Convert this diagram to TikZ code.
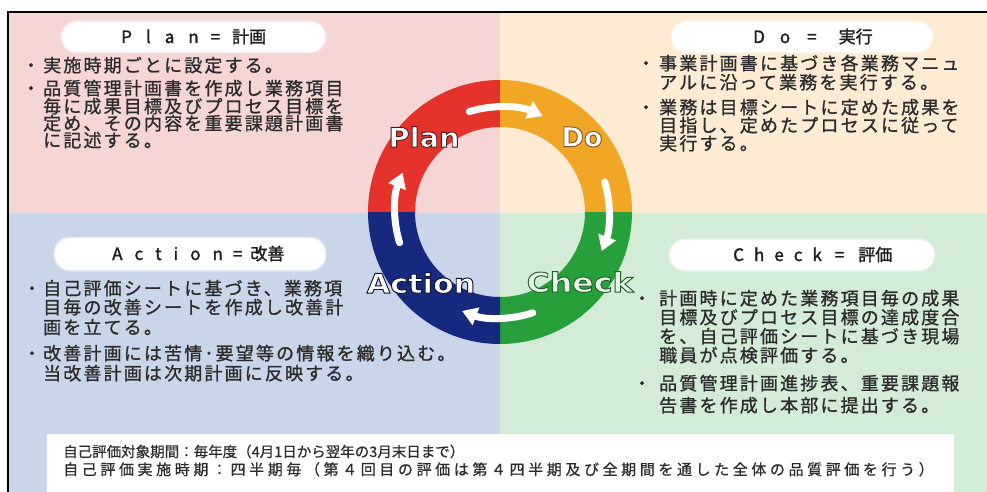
\documentclass[tikz,border=0pt]{standalone}
\usepackage{fontspec}
\usetikzlibrary{arrows.meta}
\newfontfamily\jp{Noto Sans CJK JP}[FakeBold=1]
\newfontfamily\jpttl{Noto Sans CJK JP}[FakeBold=1.6]
\newfontfamily\jpbody{Noto Sans CJK JP}[LetterSpace=12,FakeBold=1]
\newfontfamily\jpbtm{Noto Sans CJK JP}[LetterSpace=24,FakeBold=0.6]
\newfontfamily\jpbtmA{Noto Sans CJK JP}[FakeBold=0.6]
\newfontfamily\lblplan{DejaVu Sans}[FakeStretch=1.07,FakeBold=3.5]
\newfontfamily\lbldo{DejaVu Sans}[FakeStretch=1.0,FakeBold=3.5]
\newfontfamily\lblact{DejaVu Sans}[FakeStretch=1.12,FakeBold=3.5]
\newfontfamily\lblchk{DejaVu Sans}[FakeStretch=1.17,FakeBold=3.5]
\definecolor{bgpink}{HTML}{F6D5D5}
\definecolor{bgpeach}{HTML}{FDEBD3}
\definecolor{bgblue}{HTML}{C9D6E9}
\definecolor{bggreen}{HTML}{D3ECD7}
\definecolor{rgred}{HTML}{E5322B}
\definecolor{rgorange}{HTML}{F2A626}
\definecolor{rggreen}{HTML}{27A03B}
\definecolor{rgnavy}{HTML}{17297F}
\definecolor{txt}{HTML}{2B2B2B}
\definecolor{mint}{HTML}{E8F6E8}
\newcommand\strokeclr[1]{\special{pdf:code #1 RG}}
\tikzset{
  body/.style={anchor=base west, inner sep=0pt, text=txt, font=\jpbody\fontsize{18pt}{18pt}\selectfont},
  bul/.style={anchor=base, inner sep=0pt, text=txt, font=\jp\fontsize{18pt}{18pt}\selectfont},
  pill/.style={fill=white, draw=white, draw opacity=0.5, line width=3pt, rounded corners=15pt, inner sep=0pt},
  ttl/.style={anchor=base west, inner sep=0pt, text=black!88, font=\jpttl\fontsize{17pt}{17pt}\selectfont},
  btm/.style={anchor=base west, inner sep=0pt, text=txt},
  arr/.style={draw=white, line width=7pt, line cap=round, -{Triangle[length=15pt,width=18pt]}},
  lbl/.style={inner sep=0pt, text=white}
}
\begin{document}
\begin{tikzpicture}[x=1pt,y=-1pt]
\useasboundingbox (0,0) rectangle (987,492);
\fill[white] (0,0) rectangle (987,492);
% quadrants
\fill[bgpink] (8,12) rectangle (500,213);
\fill[bgpeach] (500,12) rectangle (987,213);
\fill[bgblue] (8,213) rectangle (500,492);
\fill[bggreen] (500,213) rectangle (987,492);
\draw[line width=1.6pt] (8,495) -- (8,12) -- (990,12);
% ring
\begin{scope}[shift={(500,212)}, yscale=-1]
  \fill[rgred] (90:132) arc[start angle=90,end angle=180,radius=132] -- (180:85) arc[start angle=180,end angle=90,radius=85] -- cycle;
  \fill[rgorange] (0:132) arc[start angle=0,end angle=90,radius=132] -- (90:85) arc[start angle=90,end angle=0,radius=85] -- cycle;
  \fill[rggreen] (-90:132) arc[start angle=-90,end angle=0,radius=132] -- (0:85) arc[start angle=0,end angle=-90,radius=85] -- cycle;
  \fill[rgnavy] (180:132) arc[start angle=180,end angle=270,radius=132] -- (270:85) arc[start angle=270,end angle=180,radius=85] -- cycle;
  \draw[arr] (107:105) arc[start angle=107,end angle=66,radius=105];
  \draw[arr] (16:109) arc[start angle=16,end angle=-21,radius=109];
  \draw[arr] (-72:106) arc[start angle=-72,end angle=-111,radius=106];
  \draw[arr] (197:105) arc[start angle=197,end angle=158,radius=105];
\end{scope}
% cycle labels (white fill, dark stroke)
\node[lbl, font=\lblplan\bfseries\fontsize{27pt}{27pt}\selectfont] (lplan) at (424,137) {\strokeclr{0.29 0.11 0.11}Plan};
\node[lbl, font=\lbldo\bfseries\fontsize{27pt}{27pt}\selectfont] (ldo) at (582,137) {\strokeclr{0.48 0.35 0.19}Do};
\node[lbl, font=\lblact\bfseries\fontsize{27pt}{27pt}\selectfont] (laction) at (421,283) {\strokeclr{0.06 0.08 0.21}Action};
\node[lbl, text=mint, font=\lblchk\bfseries\fontsize{27pt}{27pt}\selectfont] (lcheck) at (580,282) {\strokeclr{0.12 0.37 0.16}Check};
% title pills
\node[pill, minimum width=263pt, minimum height=30pt] (planpill) at (193.5,37) {};
\node[pill, minimum width=260pt, minimum height=30pt] (dopill) at (802,37) {};
\node[pill, minimum width=270pt, minimum height=32pt] (actpill) at (190,254) {};
\node[pill, minimum width=264pt, minimum height=30pt] (chkpill) at (802,255) {};
\node[ttl] (plantitle) at (121,43) {P\kern14pt l\kern14pt a\kern14pt n\kern12pt=\kern12pt 計画};
\node[ttl] (dotitle) at (753,43) {D\kern15pt o\kern17pt=\kern22pt 実行};
\node[ttl] (acttitle) at (112,260) {A\kern12pt c\kern12pt t\kern12pt i\kern12pt o\kern12pt n\kern10pt=\kern8pt 改善};
\node[ttl] (chktitle) at (733,261) {C\kern10pt h\kern10pt e\kern10pt c\kern10pt k\kern13pt=\kern14pt 評価};
% Plan text
\node[bul] (planb1) at (31,72) {・};
\node[body] (planl1) at (43,72) {実施時期ごとに設定する。};
\node[bul] (planb2) at (31,95) {・};
\node[body] (planl2) at (43,95) {品質管理計画書を作成し業務項目};
\node[body] (planl3) at (43,113) {毎に成果目標及びプロセス目標を};
\node[body] (planl4) at (43,130) {定め、その内容を重要課題計画書};
\node[body] (planl5) at (43,147) {に記述する。};
% Do text
\node[bul] (dob1) at (646,70) {・};
\node[body] (dol1) at (659,70) {事業計画書に基づき各業務マニュ};
\node[body] (dol2) at (659,89) {アルに沿って業務を実行する。};
\node[bul] (dob2) at (646,114) {・};
\node[body] (dol3) at (659,114) {業務は目標シートに定めた成果を};
\node[body] (dol4) at (659,132) {目指し、定めたプロセスに従って};
\node[body] (dol5) at (659,150) {実行する。};
% Action text
\node[bul] (actb1) at (32,295) {・};
\node[body] (actl1) at (43,295) {自己評価シートに基づき、業務項};
\node[body] (actl2) at (43,314) {目毎の改善シートを作成し改善計};
\node[body] (actl3) at (43,334) {画を立てる。};
\node[bul] (actb2) at (32,360) {・};
\node[body] (actl4) at (43,360) {改善計画には苦情･要望等の情報を織り込む。};
\node[body] (actl5) at (43,380) {当改善計画は次期計画に反映する。};
% Check text
\node[bul] (chkb1) at (642,305) {・};
\node[body] (chkl1) at (659,305) {計画時に定めた業務項目毎の成果};
\node[body] (chkl2) at (659,324) {目標及びプロセス目標の達成度合};
\node[body] (chkl3) at (659,343) {を、自己評価シートに基づき現場};
\node[body] (chkl4) at (659,362) {職員が点検評価する。};
\node[bul] (chkb2) at (642,390) {・};
\node[body] (chkl5) at (659,390) {品質管理計画進捗表、重要課題報};
\node[body] (chkl6) at (659,412) {告書を作成し本部に提出する。};
% bottom box
\fill[white] (47,434) rectangle (954,492);
\node[btm, font=\jpbtmA\fontsize{14.5pt}{14.5pt}\selectfont] (btm1) at (63,457) {自己評価対象期間：毎年度（4月1日から翌年の3月末日まで）};
\node[btm, font=\jpbtm\fontsize{15pt}{15pt}\selectfont] (btm2) at (63,475) {自己評価実施時期：四半期毎（第４回目の評価は第４四半期及び全期間を通した全体の品質評価を行う）};
\end{tikzpicture}
\end{document}
